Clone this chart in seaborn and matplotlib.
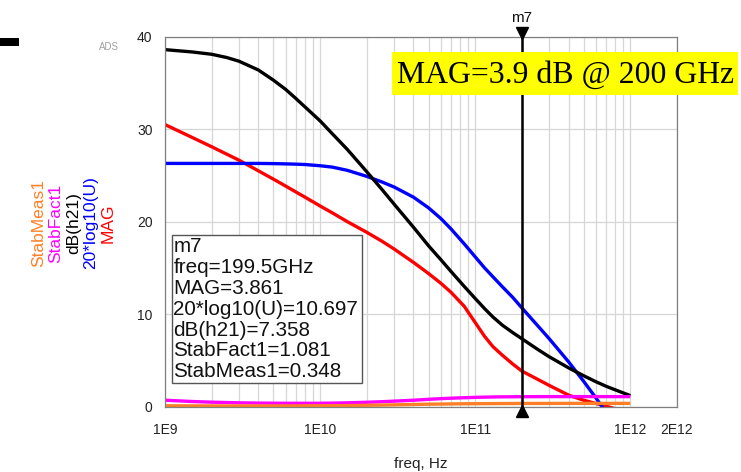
import matplotlib
matplotlib.use("Agg")
import matplotlib.pyplot as plt
import matplotlib.transforms as mtransforms
from matplotlib.patches import Rectangle
from matplotlib.ticker import FixedLocator, FixedFormatter, NullFormatter
import numpy as np
import pandas as pd
import seaborn as sns

# ---- data -------------------------------------------------------------
freq_ghz = [1, 1.5, 2, 2.5, 3, 4, 5, 6, 7, 8, 10, 12, 15, 20, 25, 30, 40, 50,
            60, 70, 85, 100, 115, 130, 150, 175, 199.5, 250, 300, 400, 500,
            600, 700, 850, 1000]

mag_db = [30.5, 29.1, 28.1, 27.3, 26.65, 25.5, 24.6, 23.85, 23.2, 22.65,
          21.7, 20.95, 20.0, 18.85, 17.9, 17.05, 15.6, 14.4, 13.35, 12.35,
          10.85, 9.1, 7.6, 6.5, 5.55, 4.6, 3.861, 3.0, 2.3, 1.25, 0.7, 0.35,
          0.05, -0.35, -0.7]

u_db = [26.3, 26.3, 26.3, 26.3, 26.3, 26.3, 26.28, 26.25, 26.22, 26.18,
        26.05, 25.9, 25.55, 24.9, 24.3, 23.75, 22.65, 21.5, 20.35, 19.2,
        17.6, 16.2, 15.0, 14.05, 12.95, 11.8, 10.697, 8.85, 7.35, 4.85,
        2.75, 0.95, -0.65, -2.75, -4.6]

h21_db = [38.6, 38.35, 38.1, 37.75, 37.35, 36.4, 35.3, 34.3, 33.3, 32.4,
          30.9, 29.5, 27.8, 25.4, 23.5, 21.9, 19.4, 17.4, 15.9, 14.6, 13.0,
          11.7, 10.6, 9.7, 8.8, 8.0, 7.358, 6.25, 5.4, 4.2, 3.35, 2.7, 2.2,
          1.65, 1.2]

stab_fact = [0.7, 0.56, 0.49, 0.45, 0.42, 0.39, 0.38, 0.37, 0.37, 0.37,
             0.37, 0.39, 0.42, 0.48, 0.54, 0.6, 0.7, 0.8, 0.87, 0.92, 0.97,
             1.01, 1.035, 1.05, 1.065, 1.075, 1.081, 1.087, 1.09, 1.09, 1.09,
             1.09, 1.09, 1.09, 1.09]

stab_meas = [0.1, 0.09, 0.08, 0.08, 0.08, 0.08, 0.08, 0.085, 0.09, 0.095,
             0.1, 0.11, 0.12, 0.15, 0.175, 0.2, 0.24, 0.27, 0.285, 0.3,
             0.315, 0.325, 0.33, 0.335, 0.34, 0.345, 0.348, 0.352, 0.355,
             0.36, 0.36, 0.36, 0.36, 0.36, 0.36]

trace_names = ["MAG", "20*log10(U)", "dB(h21)", "StabFact1", "StabMeas1"]
trace_colors = ["#ff0000", "#0000ff", "#000000", "#ff00ff", "#ff7f27"]

x_ticks = [1e9, 1e10, 1e11, 1e12, 2e12]
x_ticklabels = ["1E9", "1E10", "1E11", "1E12", "2E12"]
y_ticks = [0, 10, 20, 30, 40]

marker_name = "m7"
marker_freq_ghz = 199.5
readout = ["m7", "freq=199.5GHz", "MAG=3.861", "20*log10(U)=10.697",
           "dB(h21)=7.358", "StabFact1=1.081", "StabMeas1=0.348"]
banner = "MAG=3.9 dB @ 200 GHz"

# ---- long-form table ---------------------------------------------------
series = [mag_db, u_db, h21_db, stab_fact, stab_meas]
frames = []
for name, vals in zip(trace_names, series):
    frames.append(pd.DataFrame({"freq": np.array(freq_ghz) * 1e9,
                                "value": vals, "trace": name}))
df = pd.concat(frames, ignore_index=True)

# ---- figure ------------------------------------------------------------
sns.set_style("white")
plt.rcParams["font.family"] = ["Liberation Sans", "DejaVu Sans"]

W, H = 741, 472
fig = plt.figure(figsize=(W / 100, H / 100), dpi=100)

left, right, top, bottom = 165, 677, 36.7, 406.7
ax = fig.add_axes([left / W, 1 - bottom / H, (right - left) / W, (bottom - top) / H])

sns.lineplot(data=df, x="freq", y="value", hue="trace", hue_order=trace_names,
             palette=dict(zip(trace_names, trace_colors)), estimator=None,
             errorbar=None, sort=True, linewidth=2.4, legend=False, ax=ax)
for ln in ax.get_lines():
    ln.set_solid_joinstyle("round")
    ln.set_solid_capstyle("butt")

ax.set_xscale("log")
ax.set_xlim(1e9, 2e12)
ax.set_ylim(0, 40)

# axes frame and ticks
spine_color = "#808080"
for s in ax.spines.values():
    s.set_color(spine_color)
    s.set_linewidth(0.9)

ax.xaxis.set_major_locator(FixedLocator(x_ticks))
ax.xaxis.set_major_formatter(FixedFormatter(x_ticklabels))
grid_x = [m * 10 ** e for e in (9, 10, 11) for m in range(2, 10)] + [1e12]
ax.xaxis.set_minor_locator(FixedLocator(grid_x))
ax.xaxis.set_minor_formatter(NullFormatter())

ax.yaxis.set_major_locator(FixedLocator(y_ticks))
ax.yaxis.set_minor_locator(FixedLocator(np.arange(0, 41, 2)))

ax.tick_params(axis="x", which="major", direction="out", length=9, width=0.9,
               color=spine_color, labelsize=10, labelcolor="#222222", pad=3)
ax.tick_params(axis="x", which="minor", length=0)
ax.tick_params(axis="y", which="major", direction="out", length=7, width=0.9,
               color=spine_color, labelsize=10, labelcolor="#222222", pad=2)
ax.tick_params(axis="y", which="minor", direction="out", length=3.5, width=0.9,
               color=spine_color)

ax.grid(False)
ax.grid(True, axis="x", which="both", color="#d6d6d6", linewidth=0.9)
ax.grid(True, axis="y", which="major", color="#d6d6d6", linewidth=0.9)
ax.set_axisbelow(True)

ax.set_xlabel("freq, Hz", fontsize=11, color="#222222", labelpad=14)
ax.set_ylabel("")

# stacked coloured y-axis titles
ylab_x = [39, 56, 74, 91, 108]
for name, col, px in zip(trace_names[::-1], trace_colors[::-1], ylab_x):
    fig.text(px / W, 1 - 223 / H, name, rotation=90, ha="center", va="center",
             color=col, fontsize=12.5)

# ---- marker m7 ---------------------------------------------------------
mx = marker_freq_ghz * 1e9
blend = mtransforms.blended_transform_factory(ax.transData, ax.transAxes)
span = bottom - top
ax.plot([mx, mx], [(bottom - 28) / span, (bottom - 415) / span], color="black",
        linewidth=1.8, transform=blend, clip_on=False, zorder=6)
ax.plot([mx], [(bottom - 32.5) / span], marker="v", markersize=8.5, color="black",
        transform=blend, clip_on=False, zorder=7)
ax.plot([mx], [(bottom - 411) / span], marker="^", markersize=8.5, color="black",
        transform=blend, clip_on=False, zorder=7)
ax.text(mx, (bottom - 18) / span, marker_name, transform=blend, ha="center",
        va="center", fontsize=11, color="#111111")

# readout box
fig.patches.append(Rectangle((171.7 / W, 1 - 383.3 / H), (361.7 - 171.7) / W,
                             (383.3 - 235) / H, transform=fig.transFigure,
                             facecolor="white", edgecolor="#555555",
                             linewidth=1.0, zorder=8))
for i, line in enumerate(readout):
    fig.text(173.5 / W, 1 - (252.5 + i * 20.75) / H, line, ha="left",
             va="baseline", fontsize=14.9, color="#111111", zorder=9)

# yellow banner
fig.patches.append(Rectangle((391.7 / W, 1 - 95 / H), (738.3 - 391.7) / W,
                             (95 - 51.7) / H, transform=fig.transFigure,
                             facecolor="#ffff00", edgecolor="none", zorder=8))
fig.text(397 / W, 1 - 82.7 / H, banner, ha="left", va="baseline",
         fontsize=22.9, family=["Liberation Serif", "DejaVu Serif"],
         color="black", zorder=9)

# small decorations at upper left
fig.patches.append(Rectangle((0, 1 - 46 / H), 19 / W, 8 / H,
                             transform=fig.transFigure, facecolor="black",
                             edgecolor="none"))
fig.text(109 / W, 1 - 47 / H, "ADS", ha="center", va="center", fontsize=7,
         color="#a0a0a0")

fig.savefig("out.png", dpi=100)
